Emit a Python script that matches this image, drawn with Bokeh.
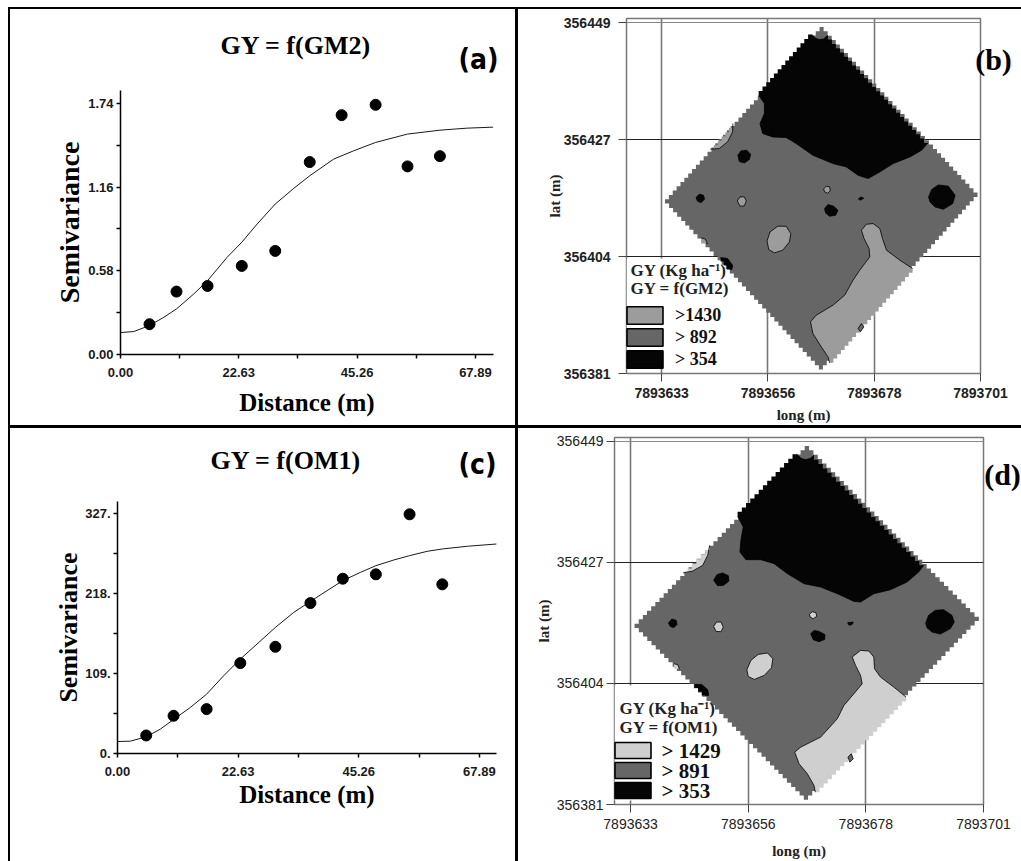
from bokeh.plotting import figure
from bokeh.layouts import column, row
from bokeh.models import Range1d, FixedTicker, Label, BoxAnnotation, Grid, Div
from bokeh.embed import file_html
from bokeh.resources import INLINE

# ---------- semivariograms ----------
GM2_DIST = [5.55, 10.71, 16.65, 23.2, 29.6, 36.2, 42.3, 48.8, 54.9, 61.1]
GM2_SEMI = [0.21, 0.436, 0.475, 0.614, 0.718, 1.334, 1.659, 1.731, 1.304, 1.375]
GM2_FIT_D = [0, 2.55, 5.55, 8.29, 10.71, 14.03, 16.65, 20.4, 23.2, 26.15, 29.6, 33.16, 36.2, 40.8, 44.6, 48.8, 54.9, 61.1, 66.3, 71.3]
GM2_FIT_S = [.152, .159, .201, .258, .316, .42, .512, .674, .778, .905, 1.043, 1.152, 1.239, 1.355, 1.412, 1.47, 1.528, 1.555, 1.569, 1.576]

OM1_DIST = [5.39, 10.52, 16.72, 23.04, 29.62, 36.19, 42.27, 48.47, 54.79, 60.93]
OM1_SEMI = [24.6, 51.5, 60.6, 123.4, 145.7, 205.4, 238.6, 244.6, 326.5, 230.9]
OM1_FIT_D = [0, 2.38, 5.39, 8.02, 10.52, 13.65, 16.72, 19.9, 23.04, 26.17, 29.62, 33.06, 36.19, 39.32, 42.27, 45.59, 48.47, 51.85, 54.79, 58.1, 60.93, 65.63, 71.13]
OM1_FIT_S = [16.4, 16.8, 22.8, 33.2, 46.4, 62.8, 81, 106, 128.9, 149.4, 172.1, 192.6, 207.7, 222.3, 236, 247.3, 256.4, 264.2, 270.1, 276, 279.2, 282.9, 286]

DIST_TICKS = [0, 22.63, 45.26, 67.89]
DIST_LABELS = ["0.00", "22.63", "45.26", "67.89"]
DIST_MINOR = [11.315, 33.945, 56.575]
GM2_TICKS = [0, 0.58, 1.16, 1.74]
GM2_LABELS = ["0.00", "0.58", "1.16", "1.74"]
GM2_MINOR = [0.29, 0.87, 1.45]
OM1_TICKS = [0, 109, 218, 327]
OM1_LABELS = ["0.", "109.", "218.", "327."]
OM1_MINOR = [54.5, 163.5, 272.5]

# ---------- kriging maps: outlines in survey-grid units, turned into metres below ----------
LONG_TICKS = [7893633, 7893655.67, 7893678.33, 7893701]
LONG_LABELS = ["7893633", "7893656", "7893678", "7893701"]
LAT_TICKS = [356381, 356403.67, 356426.33, 356449]
LAT_LABELS = ["356381", "356404", "356427", "356449"]

B_CORNERS = [(900, 80), (1372, 590), (910, 1108), (438, 597)]
B_BLACK_EDGE = [(718, 285), (735, 310), (735, 340), (722, 370), (730, 400), (760, 410), (800, 412), (830, 430), (880, 465), (940, 490), (980, 500), (1015, 525), (1045, 535), (1080, 515), (1120, 490), (1170, 470), (1205, 450), (1224, 428)]
B_CAP = [(925, 105), (912, 116), (900, 118), (888, 114), (877, 103)]
B_LIGHT_NW = [(641, 370), (640, 395), (625, 425), (600, 445), (573, 447)]
B_LIGHT_SE = [(1178, 805), (1140, 780), (1100, 750), (1088, 715), (1080, 685), (1060, 670), (1040, 672), (1025, 690), (1033, 715), (1048, 745), (1050, 770), (1020, 810), (1000, 840), (975, 885), (940, 915), (890, 945), (873, 965), (880, 1000), (905, 1040), (925, 1070), (930, 1088)]
B_BLACK_SW = [(604, 772), (625, 775), (640, 795), (638, 808), (632, 808)]
B_LIGHT_TINY = [(546, 713), (558, 716), (565, 730), (561, 730)]
B_BLACK_BLOBS = [
    [(656, 465), (665, 452), (682, 450), (694, 462), (690, 478), (675, 488), (660, 484)],
    [(531, 592), (540, 582), (553, 585), (556, 597), (546, 607), (535, 603)],
    [(1016, 596), (1024, 590), (1032, 594), (1022, 600)],
    [(915, 625), (925, 613), (942, 618), (955, 630), (948, 645), (930, 648), (918, 638)],
    [(1226, 590), (1235, 568), (1255, 554), (1285, 558), (1305, 585), (1298, 610), (1270, 627), (1245, 620), (1230, 605)],
]
B_LIGHT_BLOBS = [
    [(654, 602), (662, 590), (675, 590), (681, 602), (675, 617), (662, 618)],
    [(912, 566), (920, 558), (930, 560), (932, 572), (924, 579), (915, 575)],
    [(743, 722), (752, 695), (775, 678), (800, 678), (814, 700), (810, 725), (790, 750), (765, 758), (748, 748)],
]
B_MID_BLOBS = [[(1015, 985), (1025, 970), (1032, 980), (1022, 995)]]

D_CORNERS = [(852, 47), (1376, 572), (862, 1108), (340, 580)]
D_BLACK_EDGE = [(650, 258), (667, 290), (660, 330), (657, 365), (675, 388), (720, 388), (760, 400), (800, 430), (850, 460), (900, 470), (950, 490), (1000, 513), (1020, 515), (1060, 490), (1110, 478), (1160, 455), (1195, 425), (1210, 405)]
D_CAP = [(880, 75), (868, 85), (855, 88), (842, 85), (828, 72)]
D_LIGHT_NW = [(566, 345), (560, 375), (545, 405), (515, 422), (486, 428)]
D_LIGHT_SE = [(1157, 800), (1120, 770), (1080, 740), (1062, 715), (1060, 680), (1045, 662), (1020, 660), (995, 680), (1005, 705), (1020, 735), (1025, 760), (1000, 790), (970, 825), (950, 865), (900, 920), (840, 950), (822, 965), (835, 1000), (860, 1030), (880, 1065), (884, 1085)]
D_BLACK_SW = [(520, 762), (542, 762), (560, 778), (563, 795), (553, 795)]
D_LIGHT_TINY = [(459, 700), (470, 703), (475, 715), (473, 715)]
D_BLACK_BLOBS = [
    [(578, 450), (588, 433), (605, 428), (622, 436), (624, 452), (608, 465), (590, 466)],
    [(442, 578), (452, 566), (465, 570), (468, 582), (458, 592), (447, 588)],
    [(981, 577), (998, 575), (995, 582), (986, 585)],
    [(870, 610), (880, 600), (895, 603), (913, 613), (912, 627), (895, 634), (878, 628)],
    [(1216, 578), (1225, 555), (1245, 540), (1270, 538), (1295, 555), (1302, 575), (1290, 595), (1260, 611), (1235, 605), (1220, 592)],
]
D_LIGHT_BLOBS = [
    [(578, 588), (587, 575), (600, 575), (607, 590), (600, 604), (585, 603)],
    [(866, 552), (875, 544), (886, 547), (888, 558), (878, 565), (869, 561)],
    [(678, 718), (690, 690), (712, 672), (740, 668), (756, 685), (752, 712), (730, 735), (700, 747), (682, 738)],
]
D_MID_BLOBS = [[(982, 980), (992, 970), (998, 985), (988, 995)]]

B_CLASSES = [">1430", "> 892", "> 354"]
D_CLASSES = ["> 1429", "> 891", "> 353"]

SERIF = "Liberation Serif"
SANS = "Liberation Sans"
NAN = float("nan")


def rule(l, t, w, h):
    return Div(text="", width=w, height=h, margin=0,
               styles={"position": "absolute", "left": f"{l}px", "top": f"{t}px",
                       "background-color": "black", "z-index": "10"})


def panel_text(p, text, x, y, font, size, place, align="center"):
    p.add_layout(Label(x=x, y=y, x_units="canvas", y_units="canvas", text=text, text_font=font,
                       text_font_style="bold", text_font_size=size, text_baseline="middle",
                       text_align=align, text_color="black", level="overlay"), place)


def variogram(w, h, dims, xmax, ymax, dist, semi, fit_d, fit_s, yticks, ylabels, yminor, ysize, standoffs):
    p = figure(width=w, height=h, output_backend="svg", toolbar_location=None,
               x_range=Range1d(0, xmax), y_range=Range1d(0, ymax), frame_align=False,
               min_border_left=dims[0], min_border_right=dims[1], min_border_top=dims[2], min_border_bottom=dims[3],
               outline_line_color=None)
    p.grid.visible = False
    p.line(fit_d, fit_s, line_color="#1a1a1a", line_width=1)
    p.scatter(dist, semi, size=11, fill_color="black", line_color="black")
    xa, ya = p.xaxis[0], p.yaxis[0]
    xa.ticker = FixedTicker(ticks=DIST_TICKS, minor_ticks=DIST_MINOR)
    ya.ticker = FixedTicker(ticks=yticks, minor_ticks=yminor)
    xa.major_label_overrides = dict(zip(DIST_TICKS, DIST_LABELS))
    ya.major_label_overrides = dict(zip(yticks, ylabels))
    ya.major_label_orientation = "horizontal"
    for a in (xa, ya):
        a.axis_line_color = "black"
        a.axis_line_width = 1.5
        a.major_tick_line_color = "black"
        a.minor_tick_line_color = "black"
        a.major_tick_line_width = 1.5
        a.minor_tick_line_width = 1.5
        a.major_tick_in = 0
        a.minor_tick_in = 0
        a.major_tick_out = 4
        a.minor_tick_out = 4
        a.major_label_text_font = SANS
        a.major_label_text_font_style = "bold"
        a.major_label_text_font_size = "13px"
        a.major_label_text_color = "#1a1a1a"
        a.axis_label_text_font = SERIF
        a.axis_label_text_font_style = "bold"
        a.axis_label_text_color = "black"
    xa.axis_label = "Distance (m)"
    ya.axis_label = "Semivariance"
    xa.axis_label_text_font_size = "25px"
    ya.axis_label_text_font_size = ysize
    xa.major_label_standoff = 9
    ya.major_label_standoff = 3
    xa.axis_label_standoff = standoffs[0]
    ya.axis_label_standoff = standoffs[1]
    return p


def stair(a, b, step=13):
    n = max(1, round(max(abs(b[0] - a[0]), abs(b[1] - a[1])) / step))
    pts = []
    for i in range(n):
        x0 = a[0] + (b[0] - a[0]) * i / n
        y0 = a[1] + (b[1] - a[1]) * i / n
        x1 = a[0] + (b[0] - a[0]) * (i + 1) / n
        pts += [(x0, y0), (x1, y0)]
    pts.append(b)
    return pts


def map_panel(w, h, dims, span, corners, black_edge, cap, light_nw, light_se, black_sw, light_tiny,
              black_blobs, light_blobs, mid_blobs, light_color, legend_labels, legend_loc, legend_style,
              header, header_box, tick_bold, label_standoff, standoffs):
    x0, xscale, y0, yscale = span

    def xs_of(pts):
        return [LONG_TICKS[0] + (q[0] - x0) * xscale for q in pts]

    def ys_of(pts):
        return [LAT_TICKS[0] + (y0 - q[1]) * yscale for q in pts]

    p = figure(width=w, height=h, output_backend="svg", toolbar_location=None, frame_align=False,
               x_range=Range1d(LONG_TICKS[0] - dims[4], LONG_TICKS[-1]), y_range=Range1d(LAT_TICKS[0], LAT_TICKS[-1] + dims[5]),
               min_border_left=dims[0], min_border_right=dims[1], min_border_top=dims[2], min_border_bottom=dims[3],
               outline_line_color="#777777", outline_line_width=1.5)
    xa, ya = p.xaxis[0], p.yaxis[0]
    xa.ticker = FixedTicker(ticks=LONG_TICKS)
    ya.ticker = FixedTicker(ticks=LAT_TICKS)
    xa.major_label_overrides = dict(zip(LONG_TICKS, LONG_LABELS))
    ya.major_label_overrides = dict(zip(LAT_TICKS, LAT_LABELS))
    ya.major_label_orientation = "horizontal"
    for a in (xa, ya):
        a.axis_line_color = None
        a.minor_tick_line_color = None
        a.major_tick_in = 0
        a.major_tick_out = 8
        a.major_tick_line_color = "#444444"
        a.major_label_text_font = SANS
        a.major_label_text_font_style = tick_bold
        a.major_label_text_font_size = "14px"
        a.major_label_text_color = "#222222"
        a.axis_label_text_font = SERIF
        a.axis_label_text_font_style = "bold"
        a.axis_label_text_font_size = "15px"
        a.axis_label_text_color = "#222222"
    xa.axis_label = "long (m)"
    ya.axis_label = "lat (m)"
    xa.major_label_standoff = 6
    ya.major_label_standoff = label_standoff
    xa.axis_label_standoff = standoffs[0]
    ya.axis_label_standoff = standoffs[1]
    p.xgrid.ticker = FixedTicker(ticks=LONG_TICKS[:-1])
    p.xgrid.grid_line_color = "#777777"
    p.xgrid.grid_line_width = 1.6
    p.ygrid.ticker = FixedTicker(ticks=LAT_TICKS[1:3])
    p.ygrid.grid_line_color = "#222222"
    p.ygrid.grid_line_width = 1
    p.add_layout(Grid(dimension=1, ticker=FixedTicker(ticks=[LAT_TICKS[0], LAT_TICKS[3]]),
                      grid_line_color="#888888", grid_line_width=1))
    p.add_layout(BoxAnnotation(left=header_box[0], right=header_box[1], top=header_box[2], bottom=header_box[3],
                               left_units="canvas", right_units="canvas", top_units="canvas", bottom_units="canvas",
                               fill_color="white", fill_alpha=1, line_color=None, level="underlay"))

    T, R, B, L = corners
    diamond = stair(T, R) + stair(R, B)[1:] + stair(B, L)[1:] + stair(L, T)[1:]
    black_poly = black_edge + stair(black_edge[-1], cap[0])[1:] + cap[1:] + stair(cap[-1], black_edge[0])[1:]
    nw_poly = stair(light_nw[-1], light_nw[0]) + light_nw[1:]
    se_poly = light_se + stair(light_se[-1], light_se[0])[1:]
    sw_poly = stair(black_sw[-1], black_sw[0]) + black_sw[1:]
    tiny_poly = stair(light_tiny[-1], light_tiny[0]) + light_tiny[1:]

    mid = "#666666"
    dark = "#050505"
    p.patches([xs_of(diamond)], [ys_of(diamond)], fill_color=mid, line_color=None)
    blacks = [black_poly, sw_poly] + black_blobs
    lights = [nw_poly, se_poly, tiny_poly] + light_blobs
    p.patches([xs_of(q) for q in blacks], [ys_of(q) for q in blacks], fill_color=dark, line_color=None)
    p.patches([xs_of(q) for q in lights], [ys_of(q) for q in lights], fill_color=light_color, line_color=None)
    p.patches([xs_of(q) for q in mid_blobs], [ys_of(q) for q in mid_blobs], fill_color=mid, line_color=None)

    closed = [q + q[:1] for q in black_blobs + light_blobs + mid_blobs]
    curves = closed + [black_edge, cap, light_nw, light_se, black_sw, light_tiny]
    p.multi_line([xs_of(q) for q in curves], [ys_of(q) for q in curves], line_color="black", line_width=0.8)

    for col, lab in zip([light_color, mid, dark], legend_labels):
        p.quad(left=[NAN], right=[NAN], top=[NAN], bottom=[NAN], fill_color=col, line_color="black", line_width=1.6, legend_label=lab)
    lg = p.legend[0]
    lg.location = legend_loc
    lg.padding = 0
    lg.margin = 0
    lg.spacing = legend_style[0]
    lg.glyph_width = 45
    lg.glyph_height = legend_style[1]
    lg.label_standoff = legend_style[2]
    lg.label_height = legend_style[1]
    lg.label_text_font = SERIF
    lg.label_text_font_style = "bold"
    lg.label_text_font_size = legend_style[3]
    lg.label_text_line_height = 0.8
    lg.label_text_color = "#111111"
    lg.border_line_color = None
    lg.background_fill_alpha = 0

    for text, hx, hy, size in header:
        p.add_layout(Label(x=hx, y=hy, x_units="canvas", y_units="canvas", text=text, text_font=SERIF,
                           text_font_style="bold", text_font_size=size, text_baseline="middle", text_color="#222222"))
    return p


a = variogram(518, 428, (120, 25, 90, 74),
              71.35, 1.83, GM2_DIST, GM2_SEMI, GM2_FIT_D, GM2_FIT_S, GM2_TICKS, GM2_LABELS, GM2_MINOR,
              "28px", (9, 0))
c = variogram(518, 433, (117, 22, 73, 108),
              71.1, 344, OM1_DIST, OM1_SEMI, OM1_FIT_D, OM1_FIT_S, OM1_TICKS, OM1_LABELS, OM1_MINOR,
              "26px", (2, -1))

SPAN_B = (428, 68 / 953, 1120, 68 / 1053)
SPAN_D = (328, 68 / 1062, 1122, 68 / 1089)

b = map_panel(503, 428, (108, 41, 18, 55, 7.5, 0.8), SPAN_B, B_CORNERS, B_BLACK_EDGE, B_CAP,
              B_LIGHT_NW, B_LIGHT_SE, B_BLACK_SW, B_LIGHT_TINY, B_BLACK_BLOBS, B_LIGHT_BLOBS, B_MID_BLOBS,
              "#9c9c9c", B_CLASSES, (-4, 3), (0, 22, 8, "18px"),
              [("GY (Kg ha\u207b\u00b9)", 112, 270, "17px"), ("GY = f(GM2)", 112, 288, "17px")],
              (108, 215, 258, 368), "bold", 8, (6, -2))
# (d): the class texts sit closer than a legend row of that font allows, so they are set beside its swatches
d = map_panel(503, 433, (96, 38, 9, 57, 3.1, 0.7), SPAN_D, D_CORNERS, D_BLACK_EDGE, D_CAP,
              D_LIGHT_NW, D_LIGHT_SE, D_BLACK_SW, D_LIGHT_TINY, D_BLACK_BLOBS, D_LIGHT_BLOBS, D_MID_BLOBS,
              "#cfcfcf", [" ", "  ", "   "], (-4, 4), (0, 20, 6, "10px"),
              [("GY (Kg ha\u207b\u00b9)", 101, 280, "17px"), ("GY = f(OM1)", 101, 299, "17px")],
              (96, 205, 257, 372), "normal", 3, (11, 2))
for text, ty in zip(D_CLASSES, [322, 342, 362]):
    d.add_layout(Label(x=143, y=ty, x_units="canvas", y_units="canvas", text=text, text_font=SERIF,
                       text_font_style="bold", text_font_size="21px", text_baseline="middle", text_color="#111111"))

panel_text(a, "GY = f(GM2)", 220, 45, SERIF, "26px", "above", "left")
panel_text(c, "GY = f(OM1)", 210, 32, SERIF, "26px", "above", "left")
panel_text(a, "(a)", 478, 59, "DejaVu Sans Condensed", "28px", "left")
panel_text(c, "(c)", 477, 36, "DejaVu Sans Condensed", "28px", "left")
panel_text(b, "(b)", 475, 59, SERIF, "30px", "right")
panel_text(d, "(d)", 484, 46, SERIF, "30px", "right")

page = column(row(a, b, spacing=0), row(c, d, spacing=0),
              rule(8, 7, 1013, 2), rule(8, 7, 2, 854), rule(515, 7, 3, 854), rule(8, 425, 1013, 3), spacing=0)
open("out.html", "w").write(file_html(page, INLINE))
